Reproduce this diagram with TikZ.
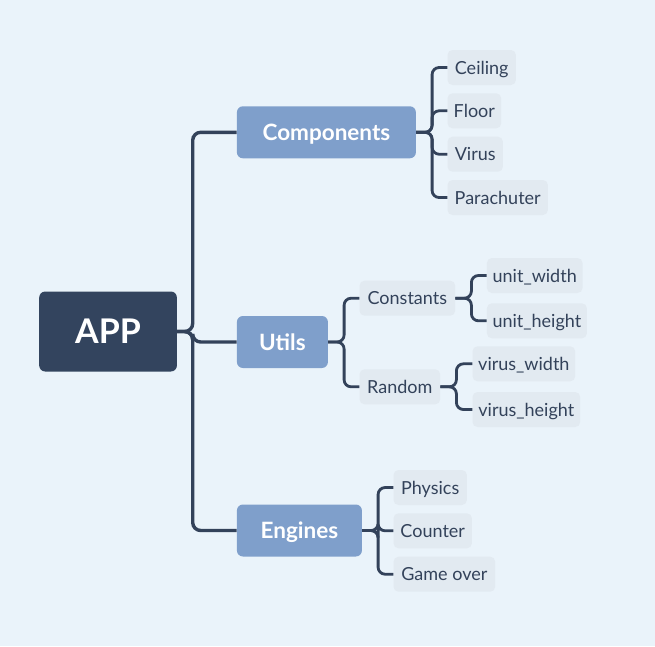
\documentclass[tikz,border=0pt]{standalone}
\usepackage{fontspec}
\setmainfont{Lato}
\definecolor{bg}{HTML}{EAF3FA}
\definecolor{rootc}{HTML}{33445E}
\definecolor{midc}{HTML}{7F9FCB}
\definecolor{leafc}{HTML}{E2EAF1}
\definecolor{linec}{HTML}{33425A}
\begin{document}
\begin{tikzpicture}[x=1pt,y=-1pt,
  rootbox/.style={text height=24.5pt,text depth=0pt,fill=rootc,text=white,font=\fontsize{34}{34}\selectfont\bfseries,rounded corners=6pt,minimum width=137.7pt,minimum height=80pt,inner sep=0pt,anchor=west},
  midbox/.style={text height=16.2pt,text depth=0pt,fill=midc,text=white,font=\fontsize{22.5}{22.5}\selectfont\bfseries,rounded corners=6pt,minimum height=52pt,inner sep=0pt,anchor=west},
  leafbox/.style={text height=13pt,text depth=0pt,fill=leafc,text=linec,font=\fontsize{18}{18}\selectfont,rounded corners=5pt,minimum height=35pt,inner sep=0pt,anchor=west},
  mainline/.style={draw=linec,line width=3.4pt,rounded corners=8pt},
  subline/.style={draw=linec,line width=2.8pt,rounded corners=7pt}
]
\useasboundingbox (0,0) rectangle (655,646);
\fill[bg] (0,0) rectangle (655,646);
% root and mid
\node[rootbox] (app) at (39,331.5) {APP};
\node[midbox,minimum width=179pt] (comp) at (236.7,132.3) {Components};
\node[midbox,minimum width=91pt] (utils) at (236.7,342) {Utils};
\node[midbox,minimum width=125pt] (eng) at (236.7,530.5) {Engines};
% components leaves
\node[leafbox,minimum width=68.4pt] (ceil) at (447.3,67.5) {Ceiling};
\node[leafbox,minimum width=53.7pt] (floor) at (447.3,110.8) {Floor};
\node[leafbox,minimum width=55.4pt] (virus) at (447.3,154.2) {Virus};
\node[leafbox,minimum width=100.4pt] (para) at (447.3,197.5) {Parachuter};
% utils
\node[leafbox,minimum width=95.7pt] (const) at (359.3,298.2) {Constants};
\node[leafbox,minimum width=80.7pt] (rand) at (359.3,386.8) {Random};
\node[leafbox,minimum width=95.6pt] (uw) at (486.7,275.5) {unit\_width};
\node[leafbox,minimum width=100pt] (uh) at (486.7,320.8) {unit\_height};
\node[leafbox,minimum width=102.7pt] (vw) at (472.3,363.8) {virus\_width};
\node[leafbox,minimum width=107.7pt] (vh) at (472.3,409.5) {virus\_height};
% engines
\node[leafbox,minimum width=73.4pt] (phys) at (393.3,487.5) {Physics};
\node[leafbox,minimum width=78.4pt] (count) at (393.3,530.8) {Counter};
\node[leafbox,minimum width=101.7pt] (game) at (393.3,574.2) {Game over};
% connectors
\foreach \c in {comp,utils,eng}{
  \draw[mainline] (app.east) -- ++(15.6,0) |- (\c.west);
}
\foreach \c in {ceil,floor,virus,para}{
  \draw[subline] (comp.east) -- ++(16,0) |- (\c.west);
}
\foreach \c in {const,rand}{
  \draw[subline] (utils.east) -- ++(16,0) |- (\c.west);
}
\foreach \c in {uw,uh}{
  \draw[subline] (const.east) -- ++(16,0) |- (\c.west);
}
\foreach \c in {vw,vh}{
  \draw[subline] (rand.east) -- ++(16,0) |- (\c.west);
}
\foreach \c in {phys,count,game}{
  \draw[subline] (eng.east) -- ++(16,0) |- (\c.west);
}
\end{tikzpicture}
\end{document}
